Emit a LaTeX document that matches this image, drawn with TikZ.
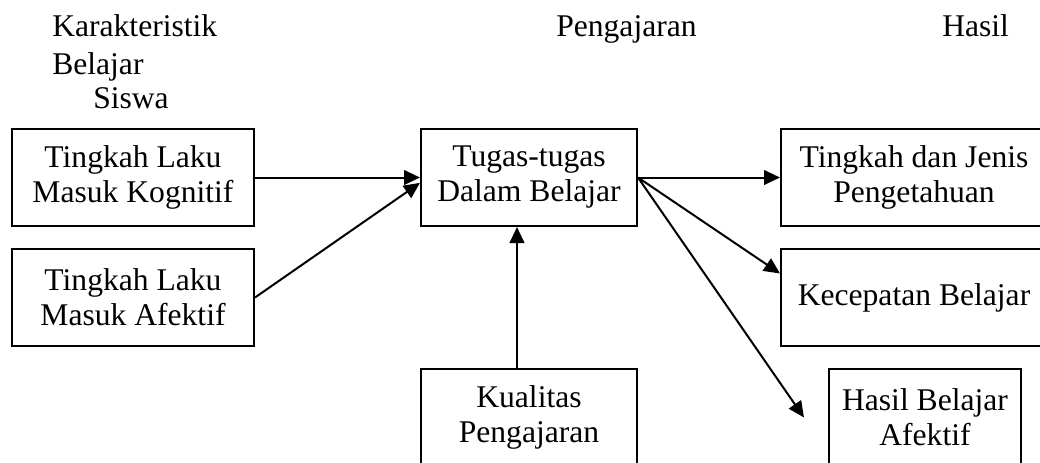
\documentclass[tikz,border=0pt]{standalone}
\usepackage{fontspec}
\setmainfont{Liberation Serif}
\usetikzlibrary{arrows.meta}
\begin{document}
\begin{tikzpicture}[x=0.75pt,y=-0.75pt,
  txt/.style={font=\fontsize{23.7}{26.25}\selectfont},
  box/.style={txt, draw, line width=1.5pt, minimum width=#1, minimum height=72.75pt,
    inner sep=0pt, align=center},
  head/.style={txt, anchor=base west, inner sep=0pt},
  arr/.style={line width=1.5pt, -{Triangle[length=12pt,width=11pt]}}]
\clip (0,0) rectangle (1040,462);
\fill[white] (0,0) rectangle (1040,462);
% headers
\node[head] (h1) at (52,36) {Karakteristik};
\node[head] (h2) at (52,74) {Belajar};
\node[head] (h3) at (93,108) {Siswa};
\node[head] (h4) at (556,36) {Pengajaran};
\node[head] (h5) at (942,36) {Hasil};
% boxes
\node[box=181.5pt] (A) at (133,177.5) {Tingkah Laku\\Masuk Kognitif};
\node[box=181.5pt] (B) at (133,297.5) {Tingkah Laku\\Masuk Afektif};
\node[box=162pt] (C) at (529,177.5) {Tugas-tugas\\Dalam Belajar};
\node[box=162pt] (K) at (529,417.5) {Kualitas\\Pengajaran};
\node[box=199.5pt] (R1) at (914,177.5) {Tingkah dan Jenis\\Pengetahuan};
\node[box=199.5pt] (R2) at (914,297.5) {Kecepatan Belajar};
\node[box=144pt] (R3) at (925,417.5) {Hasil Belajar\\Afektif};
\coordinate (e3) at ([xshift=-18pt]R3.west);
% connectors
\draw[arr] (A.east) -- (C.west);
\draw[arr] (B.east) -- ([yshift=-4pt]C.west);
\draw[arr] ([xshift=-9pt]K.north) -- ([xshift=-9pt]C.south);
\draw[arr] (C.east) -- (R1.west);
\draw[arr] (C.east) -- ([yshift=18pt]R2.west);
\draw[arr] (C.east) -- (e3);
\end{tikzpicture}
\end{document}
